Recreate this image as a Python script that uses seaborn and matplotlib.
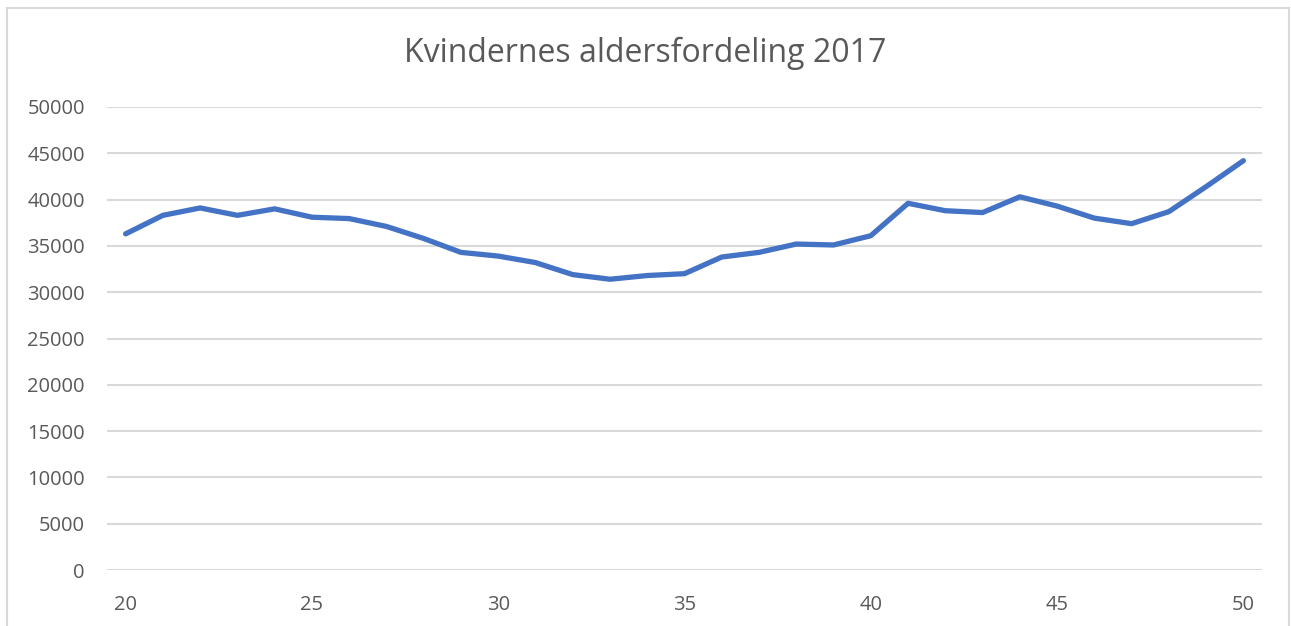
import numpy as np
import pandas as pd
import matplotlib
matplotlib.use("Agg")
import matplotlib.pyplot as plt
import seaborn as sns
from matplotlib.patches import Rectangle

# kvinder pr. alder, 2017
ages = list(range(20, 51))
women = [36300, 38300, 39100, 38300, 39000, 38100, 37950, 37100, 35800, 34300,
         33900, 33200, 31900, 31400, 31800, 32000, 33800, 34300, 35200, 35100,
         36100, 39600, 38800, 38600, 40300, 39300, 38000, 37400, 38700, 41400,
         44200]
x_ticks = [20, 25, 30, 35, 40, 45, 50]
y_ticks = list(range(0, 50001, 5000))
title = "Kvindernes aldersfordeling 2017"

df = pd.DataFrame({"alder": ages, "antal": women})

sns.set_theme(style="white")
plt.rcParams["font.family"] = ["Open Sans", "DejaVu Sans"]
txt = "#595959"
grid = "#D9D9D9"

fig = plt.figure(figsize=(12.91, 6.26), dpi=100)
ax = fig.add_axes([107 / 1291, 56 / 626, 1155 / 1291, 463 / 626])

sns.lineplot(data=df, x="alder", y="antal", ax=ax, color="#4472C4",
             linewidth=3.8, solid_capstyle="round", solid_joinstyle="round")

ax.set_xlim(19.5, 50.5)
ax.set_ylim(0, 50000)
ax.set_xticks(x_ticks)
ax.set_yticks(y_ticks)
ax.set_xticklabels([str(t) for t in x_ticks])
ax.set_yticklabels([str(t) for t in y_ticks])
ax.tick_params(axis="both", length=0, labelsize=14.5, colors=txt)
ax.tick_params(axis="y", pad=16)
ax.tick_params(axis="x", pad=18)
ax.grid(axis="y", color=grid, linewidth=1.5)
ax.set_axisbelow(True)
for s in ax.spines.values():
    s.set_visible(False)
ax.set_xlabel("")
ax.set_ylabel("")

fig.text(0.5, 1 - 53 / 626, title, ha="center", va="center",
         fontsize=23, color=txt)

# ramme om diagrammet
fig.patches.append(Rectangle((7 / 1291, -0.05), 1282 / 1291, 1.05 - 8 / 626,
                             transform=fig.transFigure, fill=False,
                             edgecolor=grid, linewidth=1.5))

fig.savefig("out.png", dpi=100)
